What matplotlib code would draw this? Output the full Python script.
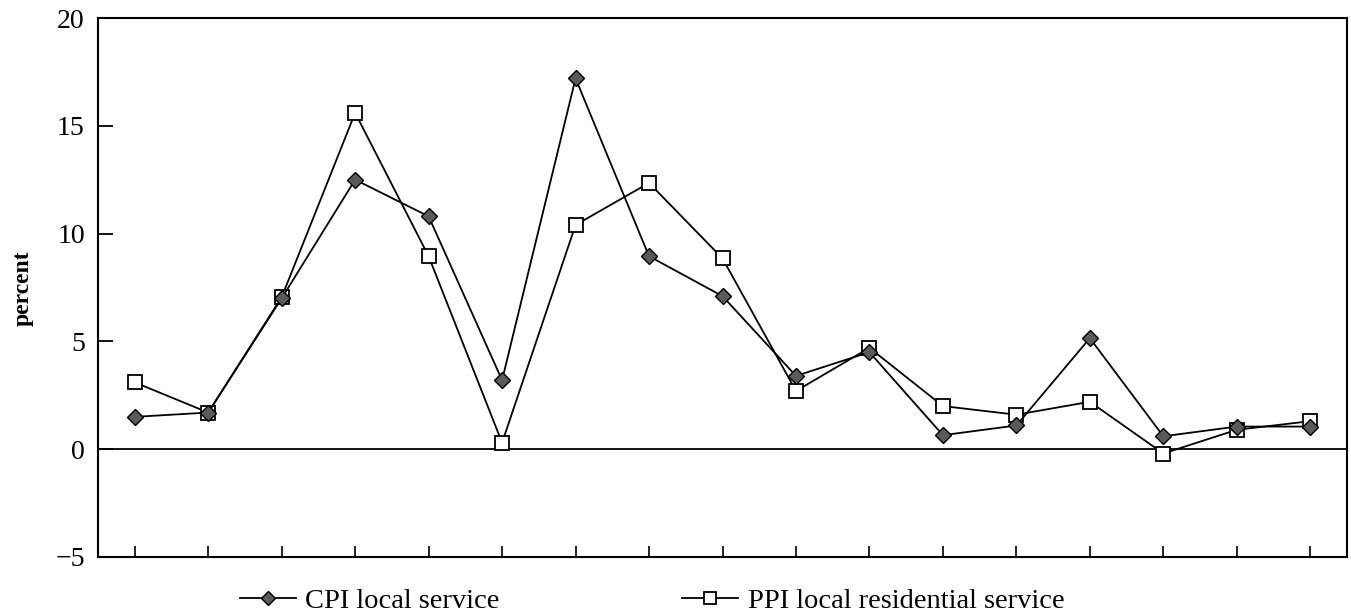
import matplotlib
matplotlib.use("Agg")
import matplotlib.pyplot as plt

periods = list(range(17))
cpi_local = [1.5, 1.7, 7.0, 12.5, 10.8, 3.2, 17.2, 8.95, 7.1, 3.4, 4.5, 0.65, 1.1, 5.15, 0.6, 1.05, 1.05]
ppi_residential = [3.1, 1.7, 7.05, 15.6, 8.95, 0.3, 10.4, 12.35, 8.85, 2.7, 4.7, 2.0, 1.6, 2.2, -0.2, 0.9, 1.3]
yticks = [-5, 0, 5, 10, 15, 20]
labels = ["CPI local service", "PPI local residential service"]

plt.rcParams['font.family'] = ['Liberation Serif', 'DejaVu Serif']

fig = plt.figure(figsize=(13.51, 6.15), dpi=100)
ax = fig.add_axes([98/1351, 1-557/615, (1347-98)/1351, (557-18)/615])

ax.axhline(0, color='black', lw=1.3, zorder=1)
ax.plot(periods, cpi_local, color='black', lw=1.3, marker='D', markersize=8,
        markerfacecolor='#5a5a5a', markeredgecolor='black', markeredgewidth=1.0, zorder=3, label=labels[0])
ax.plot(periods, ppi_residential, color='black', lw=1.3, marker='s', markersize=10,
        markerfacecolor='white', markeredgecolor='black', markeredgewidth=1.3, zorder=2, label=labels[1])

ax.set_xlim(-0.5, len(periods) - 0.5)
ax.set_ylim(-5, 20)
ax.set_yticks(yticks)
ax.set_yticklabels([str(t).replace('-', '\u2212') for t in yticks])
ax.set_xticks(periods)
ax.set_xticklabels([])
ax.tick_params(axis='y', direction='in', length=11, width=1.3, labelsize=20, pad=9.5)
ax.tick_params(axis='x', direction='in', length=8, width=1.2)
for s in ax.spines.values():
    s.set_linewidth(1.5)

fig.text(23/1351, 1-288/615, 'percent', rotation=90, ha='center', va='center',
         fontsize=17, fontweight='bold')

fig.legend(loc='center left', bbox_to_anchor=(240/1351, 1-601/615), ncol=2, frameon=False,
           fontsize=20.5, handlelength=1.95, handletextpad=0.35, columnspacing=6.4,
           borderaxespad=0, borderpad=0, markerscale=0.85)

fig.savefig('out.png', dpi=100)
